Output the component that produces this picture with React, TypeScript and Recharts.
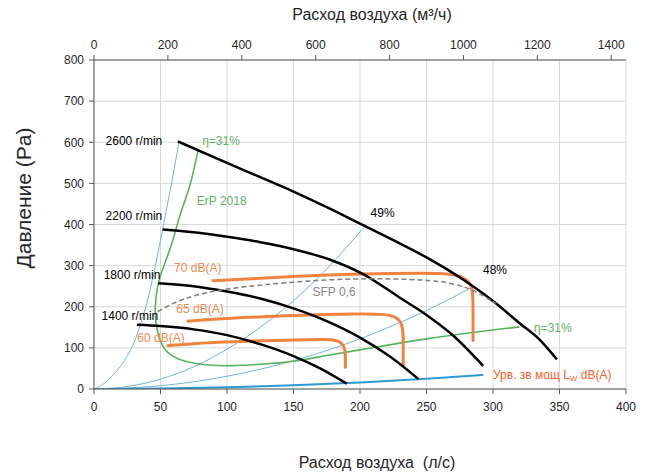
import { LineChart, Line, XAxis, YAxis, CartesianGrid, ReferenceDot } from 'recharts';

// Air flow (l/s) and static pressure (Pa)
const Q_2600 = [63, 100, 125, 150, 175, 200, 225, 250, 278, 300, 320, 335, 348];
const P_2600 = [602, 550, 515, 480, 442, 402, 362, 320, 265, 214, 160, 120, 72];

const Q_2200 = [51.6, 75, 100, 125, 150, 177, 202, 230, 250, 270, 292.6];
const P_2200 = [388, 381, 370, 357, 340, 315, 280, 222, 180, 130, 56];

const Q_1800 = [48.3, 75, 100, 125, 150, 175, 200, 222, 244];
const P_1800 = [257, 250, 237, 220, 196, 165, 125, 80, 24];

const Q_1400 = [32.3, 50, 75, 100, 125, 150, 170, 190];
const P_1400 = [156, 153, 145, 131, 109, 80, 50, 13];

// system curves (thin blue)
const Q_SYS_A = [0, 5, 10, 15, 20, 25, 30, 35, 40, 45, 50, 55, 60, 64];
const P_SYS_A = [0, 8, 20, 36, 56, 80, 112, 158, 212, 282, 362, 445, 530, 602];
const Q_SYS_B = [0, 25, 50, 75, 100, 125, 150, 175, 204.5];
const P_SYS_B = [0, 6, 24, 54, 97, 150, 215, 292, 399];
const Q_SYS_C = [0, 50, 100, 150, 200, 250, 283];
const P_SYS_C = [0, 8, 31, 69, 122, 191, 245];
// lowest system curve (thick blue)
const Q_SYS_LOW = [0, 50, 100, 150, 200, 250, 292.6];
const P_SYS_LOW = [0, 1, 4, 9, 16, 25, 34];

// ErP 2018 minimum efficiency (η=31%)
const Q_ERP = [78.4, 73.5, 69, 64.7, 59.6, 53.4, 49, 46.5, 45.8, 46.5, 48, 51, 56, 64, 75, 90, 101, 125, 150, 175, 200, 250, 300, 320];
const P_ERP = [583, 508, 462, 427, 362, 306, 270, 225, 190, 160, 135, 105, 85, 71, 62, 57, 56, 60, 66, 82, 95, 123, 144, 151];

// SFP 0,6
const Q_SFP = [48, 60, 75, 100, 150, 200, 250, 270, 285, 302];
const P_SFP = [188, 210, 228, 245, 261, 270, 266, 257, 242, 208];

// sound power levels
const Q_70DB = [88.5, 120, 150, 200, 250, 268, 278, 283, 285, 285, 285];
const P_70DB = [263, 268, 274, 280, 282, 280, 272, 258, 235, 180, 115];
const Q_65DB = [69.7, 100, 150, 200, 220, 228, 231.5, 232.5, 232.5, 232.5];
const P_65DB = [165, 172, 179, 183, 182, 174, 160, 135, 90, 55];
const Q_60DB = [54.6, 80, 100, 150, 175, 183, 187, 189, 189, 189];
const P_60DB = [105, 112, 115, 119, 121, 118, 110, 95, 70, 50];

const X_TICKS = [0, 50, 100, 150, 200, 250, 300, 350, 400];
const Y_TICKS = [0, 100, 200, 300, 400, 500, 600, 700, 800];
const M3H_TICKS = [0, 200, 400, 600, 800, 1000, 1200, 1400];
const M3H_RANGE = [0, 1440];

const BLACK = '#000000';
const ORANGE = '#ef8340';
const GREEN = '#58b35c';
const BLUE_THIN = '#6fb6de';
const BLUE_THICK = '#2c9ad5';
const GRAY = '#7f7f7f';

const zip = (q: number[], p: number[]) => q.map((x, i) => ({ q: x, p: p[i] }));

const NOTES = [
  { q: 30, p: 603, text: '2600 r/min', color: '#000' },
  { q: 30, p: 421, text: '2200 r/min', color: '#000' },
  { q: 28.6, p: 277, text: '1800 r/min', color: '#000' },
  { q: 27, p: 178, text: '1400 r/min', color: '#000' },
  { q: 95.5, p: 603, text: 'η=31%', color: '#63b066' },
  { q: 96, p: 457, text: 'ErP 2018', color: '#63b066' },
  { q: 217, p: 428, text: '49%', color: '#000' },
  { q: 301.5, p: 290, text: '48%', color: '#000' },
  { q: 345, p: 148, text: 'η=31%', color: '#63b066' },
  { q: 180.5, p: 236, text: 'SFP 0,6', color: '#888' },
  { q: 78, p: 294, text: '70 dB(A)', color: '#ee8a50' },
  { q: 79.7, p: 195, text: '65 dB(A)', color: '#ee8a50' },
  { q: 50.4, p: 124, text: '60 dB(A)', color: '#ee8a50' },
];

const UrvLabel = (props: any) => {
  const { x, y } = props.viewBox;
  return (
    <text x={x} y={y + 4} fill="#f2612c" fontSize={12}>
      Урв. зв мощ L<tspan fontSize={8} dy={2}>W</tspan>
      <tspan dy={-2}> dB(A)</tspan>
    </text>
  );
};

const curves = [
  { key: 'sysA', data: zip(Q_SYS_A, P_SYS_A), color: BLUE_THIN, width: 1, kind: 'monotone' },
  { key: 'sysB', data: zip(Q_SYS_B, P_SYS_B), color: BLUE_THIN, width: 1, kind: 'monotone' },
  { key: 'sysC', data: zip(Q_SYS_C, P_SYS_C), color: BLUE_THIN, width: 1, kind: 'monotone' },
  { key: 'sysLow', data: zip(Q_SYS_LOW, P_SYS_LOW), color: BLUE_THICK, width: 2, kind: 'monotone' },
  { key: 'erp', data: zip(Q_ERP, P_ERP), color: GREEN, width: 1.6, kind: 'basis' },
  { key: 'db70', data: zip(Q_70DB, P_70DB), color: ORANGE, width: 3, kind: 'basis' },
  { key: 'db65', data: zip(Q_65DB, P_65DB), color: ORANGE, width: 3, kind: 'basis' },
  { key: 'db60', data: zip(Q_60DB, P_60DB), color: ORANGE, width: 3, kind: 'basis' },
  { key: 'n1400', data: zip(Q_1400, P_1400), color: BLACK, width: 2.5, kind: 'monotone' },
  { key: 'n1800', data: zip(Q_1800, P_1800), color: BLACK, width: 2.5, kind: 'monotone' },
  { key: 'n2200', data: zip(Q_2200, P_2200), color: BLACK, width: 2.5, kind: 'monotone' },
  { key: 'n2600', data: zip(Q_2600, P_2600), color: BLACK, width: 2.5, kind: 'monotone' },
];

const tickStyle = { fontSize: 12, fill: '#262626' };

export default function App() {
  return (
    <div
      style={{
        position: 'absolute', left: 0, top: 0, width: 648, height: 476,
        background: '#fff', fontFamily: '"Liberation Sans", Arial, sans-serif',
      }}
    >
      <LineChart width={648} height={476} margin={{ top: 0, right: 22, bottom: 0, left: 0 }}>
        <CartesianGrid stroke="#d9d9d9" />
        <XAxis
          dataKey="q" type="number" domain={[0, 400]} ticks={X_TICKS} height={87}
          tick={tickStyle} tickSize={5} tickMargin={8} stroke="#595959" allowDataOverflow
        />
        <XAxis
          xAxisId="top" dataKey="m" orientation="top" type="number" domain={M3H_RANGE}
          ticks={M3H_TICKS} height={60} tick={tickStyle} tickSize={5} tickMargin={6}
          stroke="#595959" allowDataOverflow
        />
        <YAxis
          type="number" domain={[0, 800]} ticks={Y_TICKS} width={94}
          tick={tickStyle} tickSize={5} tickMargin={5} stroke="#595959" allowDataOverflow
        />
        {/* invisible series that carries the m³/h scale */}
        <Line
          xAxisId="top" data={M3H_RANGE.map((m) => ({ m, p: 0 }))} dataKey="p"
          stroke="none" dot={false} activeDot={false} isAnimationActive={false}
        />
        {curves.map((c) => (
          <Line
            key={c.key} data={c.data} dataKey="p" type={c.kind as any} stroke={c.color}
            strokeWidth={c.width} dot={false} activeDot={false} isAnimationActive={false}
          />
        ))}
        <Line
          data={zip(Q_SFP, P_SFP)} dataKey="p" type="basis" stroke={GRAY} strokeWidth={1.5}
          strokeDasharray="5 3" dot={false} activeDot={false} isAnimationActive={false}
        />
        {NOTES.map((n) => (
          <ReferenceDot
            key={n.text + n.q} x={n.q} y={n.p} r={0} stroke="none" fill="none"
            label={{ value: n.text, position: 'center', fill: n.color, fontSize: 12 }}
          />
        ))}
        <ReferenceDot x={300} y={34} r={0} stroke="none" fill="none" label={UrvLabel} />
      </LineChart>
      <svg
        width={648} height={476}
        style={{ position: 'absolute', left: 0, top: 0, pointerEvents: 'none' }}
      >
        <text x={372} y={20} textAnchor="middle" fontSize={16} fill="#262626">
          Расход воздуха (м³/ч)
        </text>
        <text x={377} y={468} textAnchor="middle" fontSize={16} fill="#262626" xmlSpace="preserve">
          Расход воздуха  (л/с)
        </text>
        <text
          transform="translate(31,198) rotate(-90)" textAnchor="middle" fontSize={21} fill="#262626"
        >
          Давление (Pa)
        </text>
      </svg>
    </div>
  );
}
